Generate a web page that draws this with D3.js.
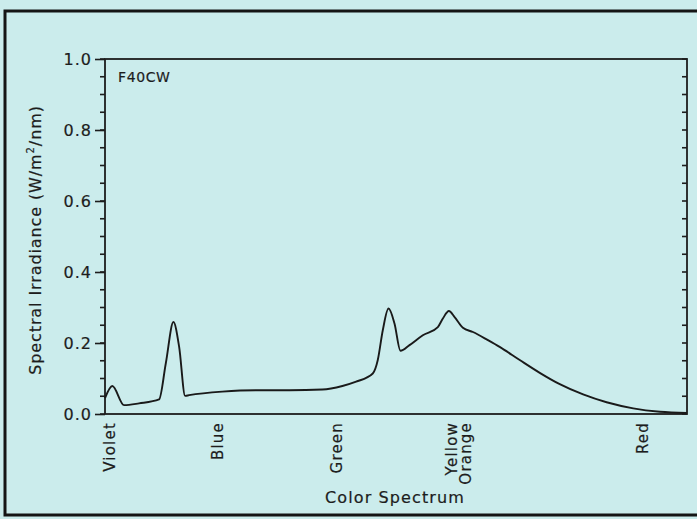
<!DOCTYPE html>
<html>
<head>
<meta charset="utf-8">
<script src="https://cdn.jsdelivr.net/npm/d3@7/dist/d3.min.js"></script>
<style>
  body { margin: 0; background: #cbecec; }
  svg { display: block; }
  text { font-family: "DejaVu Sans", sans-serif; fill: #1d1d1d; stroke: #1d1d1d; stroke-width: 0.2px; }
</style>
</head>
<body>
<svg id="chart" width="697" height="519"></svg>
<script>
// position along the spectrum (0 = left edge, 100 = right edge)
var spectrumPos = [0, 1.26, 3.27, 5.85, 9.29, 10.45, 11.76, 12.74, 13.77, 14.46, 20.14, 25.94, 31.67, 37.35,
  40.79, 43.15, 46.01, 46.87, 47.73, 48.71, 49.74, 50.77, 52.32, 54.61, 57.19, 58.05, 59.09, 60.07,
  61.5, 63.22, 65.8, 67.81, 71.26, 74.7, 78.14, 82.15, 86.18, 90.76, 95.35, 100];
// spectral irradiance, W/m2/nm
var irradiance = [0.045, 0.079, 0.025, 0.030, 0.041, 0.143, 0.259, 0.189, 0.051, 0.053, 0.063, 0.067, 0.067, 0.069,
  0.079, 0.091, 0.114, 0.152, 0.236, 0.297, 0.255, 0.178, 0.194, 0.222, 0.245, 0.269, 0.290, 0.273,
  0.243, 0.231, 0.208, 0.189, 0.152, 0.116, 0.084, 0.055, 0.033, 0.016, 0.0065, 0.003];

var colorNames = [["Violet"], ["Blue"], ["Green"], ["Yellow", "Orange"], ["Red"]];
var colorPos = [0.7, 19.3, 39.8, 60.8, 92.4];
var yTicks = [0, 0.2, 0.4, 0.6, 0.8, 1.0];

var svg = d3.select("#chart");
var pLeft = 105, pRight = 687, pTop = 59, pBottom = 414;

// outer frame
svg.append("rect")
  .attr("x", 5).attr("y", 11).attr("width", 700).attr("height", 504)
  .attr("fill", "none").attr("stroke", "#151515").attr("stroke-width", 3);

var x = d3.scaleLinear().domain([0, 100]).range([pLeft, pRight]);
var y = d3.scaleLinear().domain([0, 1]).range([pBottom, pTop]);

// plot box
svg.append("rect")
  .attr("x", pLeft).attr("y", pTop).attr("width", pRight - pLeft).attr("height", pBottom - pTop)
  .attr("fill", "none").attr("stroke", "#1d1d1d").attr("stroke-width", 1.8);

var yAxis = d3.axisLeft(y).tickValues(yTicks).tickFormat(d3.format(".1f")).tickSize(10).tickPadding(3);
var gy = svg.append("g").attr("transform", "translate(" + pLeft + ",0)").call(yAxis);
gy.select(".domain").remove();
gy.selectAll("line").attr("stroke", "#1d1d1d").attr("stroke-width", 1.6);
gy.selectAll("text").style("font-size", "16px").style("letter-spacing", "1px");

var minor = d3.range(0, 1.0001, 0.05);
svg.append("g").selectAll("line").data(minor).enter().append("line")
  .attr("x1", pLeft - 5).attr("x2", pLeft)
  .attr("y1", d => y(d)).attr("y2", d => y(d))
  .attr("stroke", "#1d1d1d").attr("stroke-width", 1.6);
svg.append("g").selectAll("line").data(minor).enter().append("line")
  .attr("x1", pRight - 5).attr("x2", pRight)
  .attr("y1", d => y(d)).attr("y2", d => y(d))
  .attr("stroke", "#1d1d1d").attr("stroke-width", 1.6);

// spectrum curve
var pts = spectrumPos.map((p, i) => [p, irradiance[i]]);
var line = d3.line().x(d => x(d[0])).y(d => y(d[1])).curve(d3.curveMonotoneX);
svg.append("path").datum(pts)
  .attr("d", line)
  .attr("fill", "none").attr("stroke", "#1a1a1a").attr("stroke-width", 1.9);

svg.append("text").attr("x", 118).attr("y", 82)
  .style("font-size", "14px").style("letter-spacing", "0.6px").text("F40CW");

// colour names under the axis
var cats = svg.append("g").selectAll("g").data(colorNames).enter().append("g")
  .attr("transform", (d, i) => "translate(" + x(colorPos[i]) + "," + (pBottom + 8) + ") rotate(-90)");
cats.each(function(d) {
  var g = d3.select(this);
  var n = d.length;
  d.forEach(function(s, k) {
    g.append("text")
      .attr("x", 0)
      .attr("y", (k - (n - 1) / 2) * 14 + 5.5)
      .attr("text-anchor", "end")
      .style("font-size", "15px").style("letter-spacing", "1.2px")
      .text(s);
  });
});

svg.append("text")
  .attr("x", 395).attr("y", 503)
  .attr("text-anchor", "middle")
  .style("font-size", "16px").style("letter-spacing", "1.1px")
  .text("Color Spectrum");

var yt = svg.append("text")
  .attr("transform", "translate(41," + 240 + ") rotate(-90)")
  .attr("text-anchor", "middle")
  .style("font-size", "16px").style("letter-spacing", "0.9px");
yt.append("tspan").text("Spectral Irradiance (W/m");
yt.append("tspan").attr("dy", -7).style("font-size", "10px").text("2");
yt.append("tspan").attr("dy", 7).text("/nm)");
</script>
</body>
</html>
